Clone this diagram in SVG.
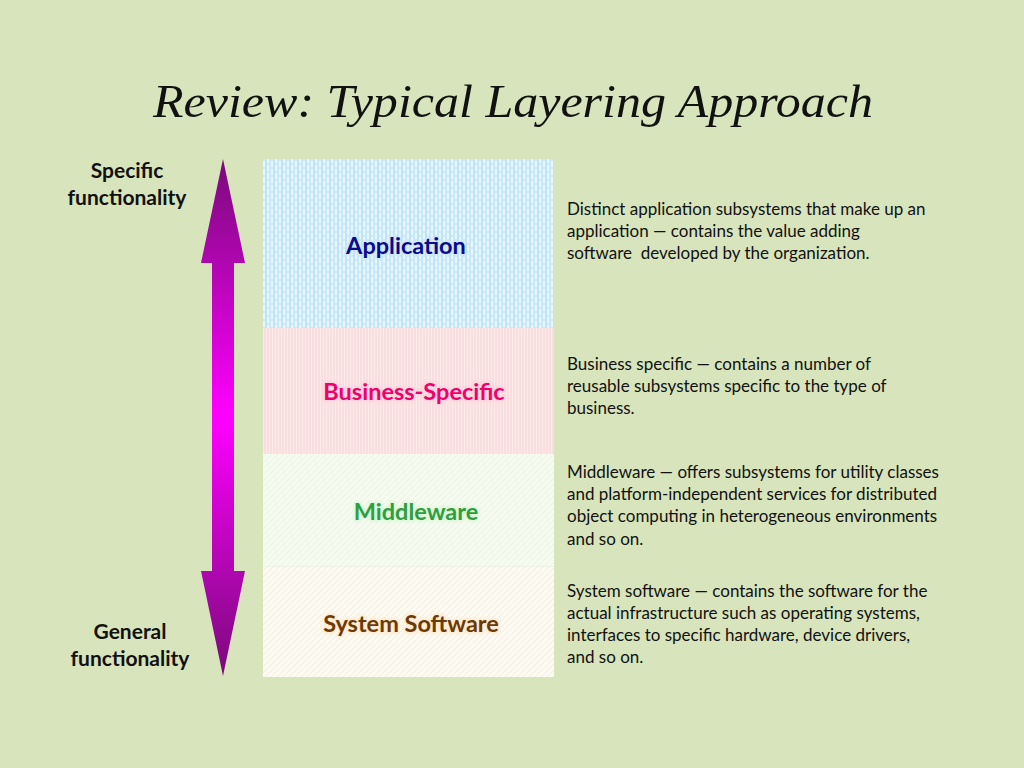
<svg xmlns="http://www.w3.org/2000/svg" width="1024" height="768" viewBox="0 0 1024 768">
  <style>
    .title { font-family: "Liberation Serif", "DejaVu Serif", serif; font-style: italic; font-size: 47px; fill: #111; }
    .side { font-family: Lato, "Liberation Sans", sans-serif; font-weight: bold; font-size: 21px; fill: #111; text-anchor: middle; }
    .desc { font-family: Lato, "Liberation Sans", sans-serif; font-size: 17px; fill: #111; }
    .lbl { font-family: Lato, "Liberation Sans", sans-serif; font-weight: bold; font-size: 23.5px; text-anchor: middle; }
    .glow { stroke-width: 4; stroke-linejoin: round; filter: url(#blur); opacity: 0.7; }
  </style>
  <defs>
    <filter id="blur" x="-10%" y="-30%" width="120%" height="160%">
      <feGaussianBlur stdDeviation="1.5"/>
    </filter>
    <linearGradient id="arrowGrad" x1="0" y1="159" x2="0" y2="676" gradientUnits="userSpaceOnUse">
      <stop offset="0" stop-color="#7a0a7a"/>
      <stop offset="0.5" stop-color="#ff00ff"/>
      <stop offset="1" stop-color="#7a0a7a"/>
    </linearGradient>
    <pattern id="patApp" width="8" height="8" patternUnits="userSpaceOnUse">
      <rect width="8" height="8" fill="#eaf6fd"/>
      <line x1="2" y1="0" x2="2" y2="8" stroke="#8fd0f0" stroke-width="1"/>
      <line x1="6" y1="0" x2="6" y2="8" stroke="#a8dcf4" stroke-width="1"/>
      <line x1="0" y1="0" x2="8" y2="8" stroke="#bfe2f4" stroke-width="0.6"/>
      <line x1="8" y1="0" x2="0" y2="8" stroke="#bfe2f4" stroke-width="0.6"/>
    </pattern>
    <pattern id="patBus" width="3" height="3" patternUnits="userSpaceOnUse">
      <rect width="3" height="3" fill="#fce9e9"/>
      <line x1="1" y1="0" x2="1" y2="3" stroke="#f7d4d6" stroke-width="1"/>
    </pattern>
    <pattern id="patMid" width="6" height="6" patternUnits="userSpaceOnUse">
      <rect width="6" height="6" fill="#f5fbee"/>
      <line x1="0" y1="6" x2="6" y2="0" stroke="#e8f1de" stroke-width="0.8"/>
    </pattern>
    <pattern id="patSys" width="6" height="6" patternUnits="userSpaceOnUse">
      <rect width="6" height="6" fill="#fdfaf1"/>
      <line x1="0" y1="6" x2="6" y2="0" stroke="#f3ecdd" stroke-width="1"/>
    </pattern>
  </defs>

  <rect width="1024" height="768" fill="#d8e4bc"/>

  <text class="title" x="513" y="117" text-anchor="middle" textLength="720" lengthAdjust="spacingAndGlyphs">Review: Typical Layering Approach</text>

  <g id="label-specific">
    <text class="side" x="127" y="178">Specific</text>
    <text class="side" x="127" y="205">functionality</text>
  </g>
  <g id="label-general">
    <text class="side" x="130" y="639">General</text>
    <text class="side" x="130" y="666">functionality</text>
  </g>

  <g id="arrow">
    <polygon points="223,159 245,263 234,263 234,571 245,571 223,676 201,571 212,571 212,263 201,263" fill="url(#arrowGrad)"/>
  </g>

  <g id="layer-application">
    <rect x="263" y="159" width="291" height="169" fill="url(#patApp)"/>
    <text class="lbl glow" x="406" y="254" fill="#cfe6ff" stroke="#cfe6ff">Application</text>
    <text class="lbl" x="406" y="254" fill="#0a0a8c">Application</text>
  </g>
  <g id="layer-business">
    <rect x="263" y="328" width="291" height="126" fill="url(#patBus)"/>
    <text class="lbl glow" x="414" y="400" fill="#ffd0e0" stroke="#ffd0e0">Business-Specific</text>
    <text class="lbl" x="414" y="400" fill="#f0006a">Business-Specific</text>
  </g>
  <g id="layer-middleware">
    <rect x="263" y="454" width="291" height="113" fill="url(#patMid)"/>
    <line x1="263" y1="567" x2="554" y2="567" stroke="#e2ead8" stroke-width="1"/>
    <text class="lbl glow" x="416" y="520" fill="#d6f5d6" stroke="#d6f5d6">Middleware</text>
    <text class="lbl" x="416" y="520" fill="#2e9e3e">Middleware</text>
  </g>
  <g id="layer-system">
    <rect x="263" y="567" width="291" height="110" fill="url(#patSys)"/>
    <text class="lbl glow" x="411" y="632" fill="#ffe6c8" stroke="#ffe6c8">System Software</text>
    <text class="lbl" x="411" y="632" fill="#6b3a06">System Software</text>
  </g>

  <g id="desc-application">
    <text class="desc" x="567" y="215">Distinct application subsystems that make up an</text>
    <text class="desc" x="567" y="237">application — contains the value adding</text>
    <text class="desc" x="567" y="259" xml:space="preserve">software  developed by the organization.</text>
  </g>
  <g id="desc-business">
    <text class="desc" x="567" y="370">Business specific — contains a number of</text>
    <text class="desc" x="567" y="392">reusable subsystems specific to the type of</text>
    <text class="desc" x="567" y="414">business.</text>
  </g>
  <g id="desc-middleware">
    <text class="desc" x="567" y="478">Middleware — offers subsystems for utility classes</text>
    <text class="desc" x="567" y="500">and platform-independent services for distributed</text>
    <text class="desc" x="567" y="522">object computing in heterogeneous environments</text>
    <text class="desc" x="567" y="545">and so on.</text>
  </g>
  <g id="desc-system">
    <text class="desc" x="567" y="597">System software — contains the software for the</text>
    <text class="desc" x="567" y="619">actual infrastructure such as operating systems,</text>
    <text class="desc" x="567" y="641">interfaces to specific hardware, device drivers,</text>
    <text class="desc" x="567" y="663">and so on.</text>
  </g>
</svg>
